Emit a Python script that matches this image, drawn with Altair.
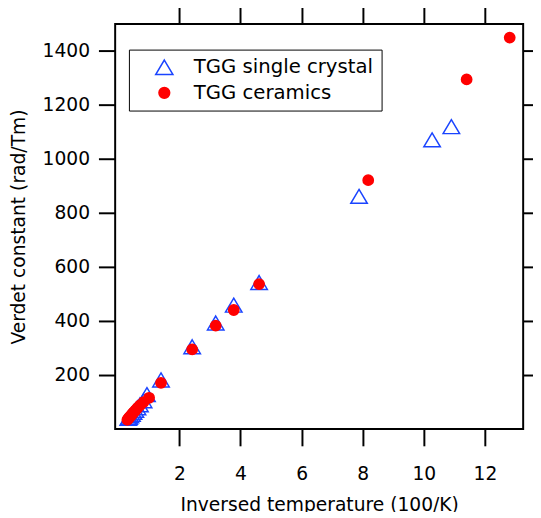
import altair as alt
import pandas as pd

# Single crystal (open triangles)
sc_x = [0.33, 0.36, 0.40, 0.45, 0.50, 0.56, 0.63, 0.71, 0.83, 0.94,
        1.40, 2.42, 3.19, 3.78, 4.61, 7.88, 10.27, 10.90]
sc_y = [40, 44, 49, 55, 62, 70, 79, 90, 105, 128,
        182, 305, 393, 459, 543, 862, 1071, 1120]
# Ceramics (filled circles)
ce_x = [0.30, 0.33, 0.36, 0.40, 0.45, 0.50, 0.56, 0.63, 0.71, 0.83, 1.01,
        1.40, 2.42, 3.19, 3.78, 4.61, 8.18, 11.40, 12.81]
ce_y = [34, 39, 43, 48, 55, 62, 69, 78, 88, 100, 116,
        171, 295, 383, 441, 537, 922, 1295, 1450]

series = ["TGG single crystal", "TGG ceramics"]

df = pd.DataFrame({
    "x": sc_x + ce_x,
    "y": sc_y + ce_y,
    "s": [series[0]] * len(sc_x) + [series[1]] * len(ce_x),
    "o": list(range(len(sc_x) + len(ce_x))),
})

FONT = "DejaVu Sans"
tri = "M0,-1.35L1.6,1.35L-1.6,1.35Z"

xs = alt.Scale(domain=[-0.1, 13.25], nice=False, zero=False)
ys = alt.Scale(domain=[0, 1500], nice=False, zero=False)
xticks = [2, 4, 6, 8, 10, 12]
yticks = [200, 400, 600, 800, 1000, 1200, 1400]

common_axis = dict(domain=False, grid=False, tickSize=17, tickWidth=2,
                   tickColor="black", labelFont=FONT, labelFontSize=19,
                   labelColor="black", titleFont=FONT, titleFontSize=19,
                   titleColor="black", titleFontWeight="normal", format="d")

bottom = alt.Axis(orient="bottom", values=xticks, title="Inversed temperature (100/K)",
                  labelPadding=19, titlePadding=13, **common_axis)
left = alt.Axis(orient="left", values=yticks, title="Verdet constant (rad/Tm)",
                labelPadding=9, titlePadding=14, **common_axis)
top = alt.Axis(orient="top", values=xticks, labels=False, title="", **common_axis)
right = alt.Axis(orient="right", values=yticks, labels=False, title="", **common_axis)

legend = alt.Legend(title=None, orient="none", legendX=14, legendY=26,
                    strokeColor="black", padding=8, symbolSize=120,
                    symbolOffset=18, symbolStrokeWidth=1.5, labelFont=FONT,
                    labelFontSize=20, labelColor="black", labelOffset=20,
                    rowPadding=5, labelLimit=400, fillColor="white")

pts = alt.Chart(df).mark_point(size=110, strokeWidth=1.5, opacity=1).encode(
    x=alt.X("x:Q", scale=xs, axis=bottom),
    y=alt.Y("y:Q", scale=ys, axis=left),
    shape=alt.Shape("s:N", scale=alt.Scale(domain=series, range=[tri, "circle"]), legend=legend),
    stroke=alt.Stroke("s:N", scale=alt.Scale(domain=series, range=["#1a44ff", "#ff0000"]), legend=legend),
    fill=alt.Fill("s:N", scale=alt.Scale(domain=series, range=["rgba(255,255,255,0)", "#ff0000"]), legend=legend),
    order=alt.Order("o:Q"),
)

frame = alt.Chart(df).mark_point(opacity=0).encode(
    x=alt.X("x:Q", scale=xs, axis=top),
    y=alt.Y("y:Q", scale=ys, axis=right),
)

chart = alt.layer(pts, frame).resolve_axis(x="independent", y="independent").properties(
    width=415, height=412,
    background="white",
    autosize=alt.AutoSizeParams(type="none"),
    padding={"left": 109, "top": 12, "right": 10, "bottom": 80},
).configure_view(stroke="black", strokeWidth=2)

chart.save("out.html", embed_options={"renderer": "svg", "actions": False})
